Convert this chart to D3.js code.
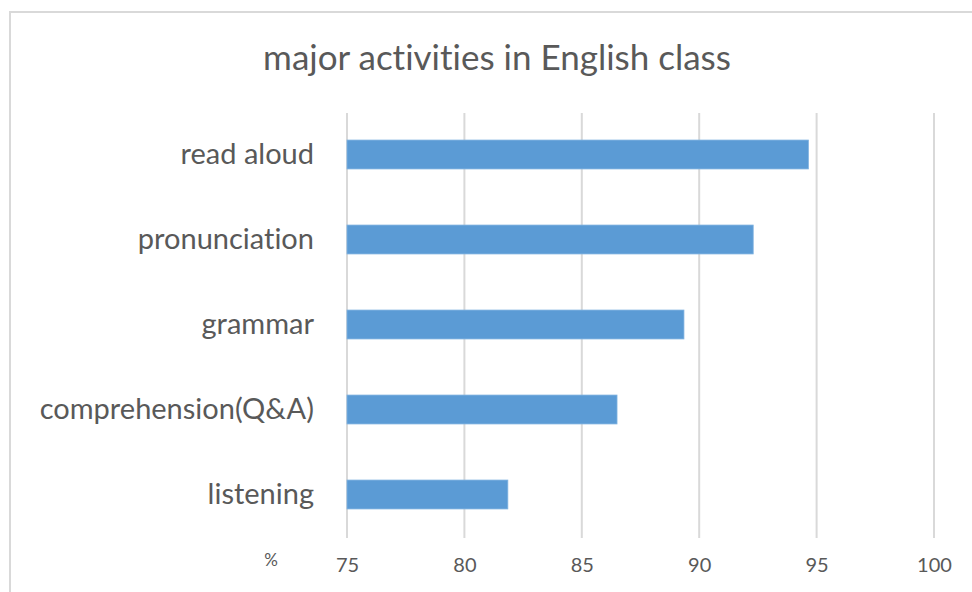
<!DOCTYPE html>
<html><head><meta charset="utf-8">
<script src="https://cdn.jsdelivr.net/npm/d3@7"></script>
<style>
html,body{margin:0;padding:0;background:#fff;}
svg{display:block;}
text{font-family:Lato,"Open Sans",sans-serif;fill:#595959;font-variant-ligatures:none;font-feature-settings:"liga" 0,"clig" 0;}
</style></head>
<body>
<script>
const categories = ["read aloud","pronunciation","grammar","comprehension(Q&A)","listening"];
const values = [94.65, 92.3, 89.35, 86.5, 81.85];
const tickValues = [75,80,85,90,95,100];
const title = "major activities in English class";
const unitLabel = "%";

const W = 972, H = 592;
const svg = d3.select("body").append("svg").attr("width",W).attr("height",H);

// chart frame (extends past right/bottom edges)
svg.append("rect").attr("x",10).attr("y",12).attr("width",W+20).attr("height",H+20)
  .attr("fill","#fff").attr("stroke","#d9d9d9").attr("stroke-width",2);

const x = d3.scaleLinear().domain([75,100]).range([347,934]);
const y = d3.scaleBand().domain(categories).range([112,537]).paddingInner(0.66).paddingOuter(0.33);

// gridlines
svg.append("g").selectAll("line").data(tickValues).join("line")
  .attr("x1",d=>x(d)).attr("x2",d=>x(d)).attr("y1",113).attr("y2",538)
  .attr("stroke","#d9d9d9").attr("stroke-width",2);

// bars
svg.append("g").selectAll("rect").data(categories).join("rect")
  .attr("x",x(75)).attr("y",d=>y(d)).attr("height",y.bandwidth())
  .attr("width",(d,i)=>x(values[i])-x(75))
  .attr("fill","#5b9bd5").attr("stroke","#7fb2e0").attr("stroke-width",0.8);

// x axis labels
const xAxis = d3.axisBottom(x).tickValues(tickValues).tickSize(0).tickPadding(0).tickFormat(d3.format("d"));
const gx = svg.append("g").attr("transform","translate(0,565)").call(xAxis);
gx.select(".domain").remove();
gx.selectAll("text").attr("dy","0.35em").attr("font-size",20).style("font-family","Lato,'Open Sans',sans-serif").attr("fill","#595959");

svg.append("text").attr("x",271).attr("y",560).attr("text-anchor","middle").attr("dy","0.35em")
  .attr("font-size",17).text(unitLabel);

// y axis labels
const yAxis = d3.axisLeft(y).tickSize(0).tickPadding(0);
const gy = svg.append("g").attr("transform","translate(314,0)").call(yAxis);
gy.select(".domain").remove();
gy.selectAll("text").attr("font-size",29).style("font-family","Lato,'Open Sans',sans-serif").attr("fill","#595959");

// title
svg.append("text").attr("x",497).attr("y",58).attr("text-anchor","middle").attr("dy","0.35em")
  .attr("font-size",35).text(title);
</script>
</body></html>
